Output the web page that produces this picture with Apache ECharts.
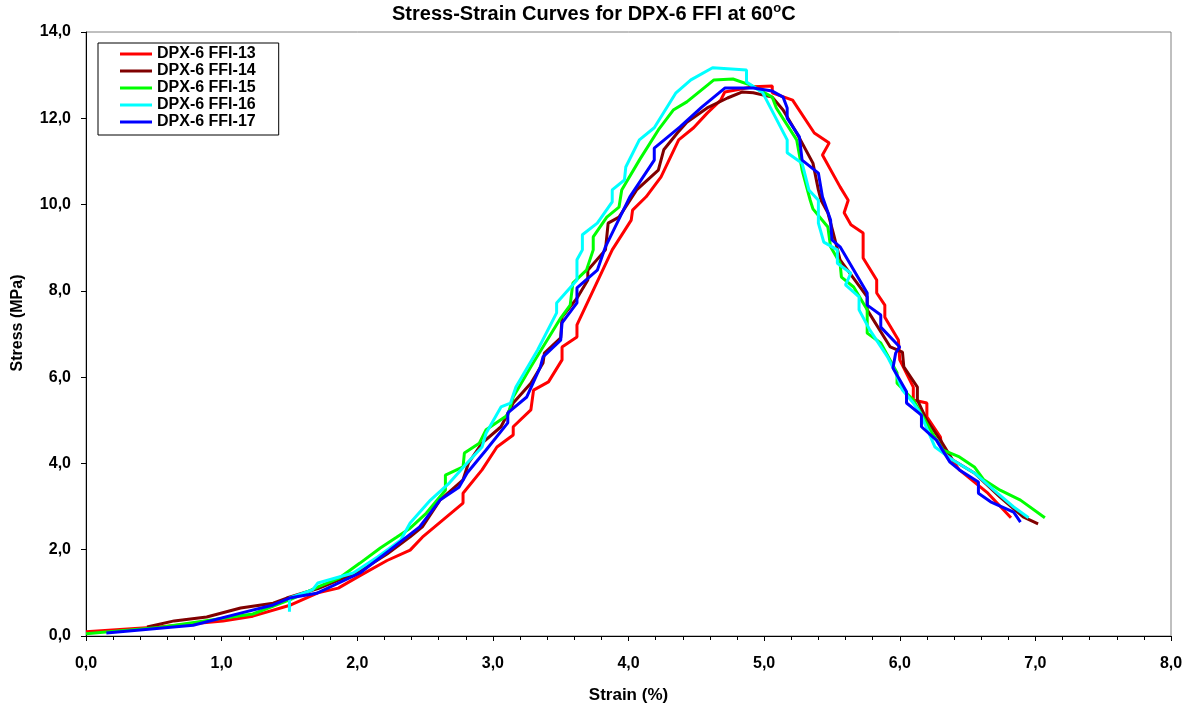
<!DOCTYPE html>
<html>
<head>
<meta charset="utf-8">
<script src="https://cdn.jsdelivr.net/npm/echarts@6/dist/echarts.min.js"></script>
<style>
html,body{margin:0;padding:0;background:#fff;}
#chart{width:1196px;height:709px;}
</style>
</head>
<body>
<div id="chart"></div>
<script>
// Strain (%) , Stress (MPa) pairs
const seriesNames = ['DPX-6 FFI-13','DPX-6 FFI-14','DPX-6 FFI-15','DPX-6 FFI-16','DPX-6 FFI-17'];
const seriesColors = ['#FF0000','#800000','#00FF00','#00FFFF','#0000FF'];

const ffi13 = [[0,0.1],[0.5,0.2],[1.01,0.35],[1.23,0.46],[1.51,0.72],[1.71,1.0],[1.86,1.11],[2.02,1.4],[2.22,1.75],[2.39,1.99],[2.48,2.29],[2.78,3.08],[2.78,3.31],[2.92,3.85],[3.03,4.38],[3.15,4.66],[3.15,4.85],[3.28,5.24],[3.30,5.70],[3.41,5.89],[3.51,6.40],[3.51,6.70],[3.62,6.93],[3.62,7.21],[3.88,8.95],[4.02,9.64],[4.03,9.87],[4.13,10.18],[4.24,10.64],[4.37,11.5],[4.48,11.78],[4.58,12.12],[4.68,12.42],[4.71,12.61],[4.92,12.73],[5.06,12.75],[5.06,12.59],[5.21,12.42],[5.37,11.66],[5.48,11.43],[5.43,11.15],[5.56,10.41],[5.62,10.1],[5.59,9.81],[5.64,9.53],[5.73,9.34],[5.73,8.76],[5.83,8.25],[5.83,7.95],[5.89,7.67],[5.89,7.39],[5.99,6.86],[6.0,6.40],[6.10,5.77],[6.10,5.47],[6.20,5.40],[6.20,5.08],[6.30,4.61],[6.31,4.38],[6.44,3.85],[6.65,3.31],[6.82,2.74]];

const ffi14 = [[0.45,0.21],[0.65,0.35],[0.89,0.44],[1.14,0.65],[1.38,0.76],[1.48,0.88],[1.71,1.1],[2.02,1.5],[2.22,1.9],[2.39,2.3],[2.48,2.53],[2.61,3.15],[2.78,3.62],[2.82,4.01],[2.92,4.47],[3.06,4.85],[3.15,5.40],[3.28,5.86],[3.37,6.33],[3.38,6.56],[3.50,6.91],[3.51,7.39],[3.62,7.83],[3.70,8.25],[3.70,8.48],[3.83,8.95],[3.85,9.57],[3.93,9.71],[4.06,10.34],[4.22,10.80],[4.26,11.27],[4.36,11.66],[4.43,11.91],[4.58,12.24],[4.73,12.47],[4.84,12.61],[4.92,12.59],[5.06,12.49],[5.14,12.19],[5.24,11.66],[5.36,10.96],[5.40,10.34],[5.42,10.1],[5.47,9.81],[5.51,9.34],[5.56,8.72],[5.76,7.86],[5.76,7.56],[5.93,6.70],[6.02,6.58],[6.03,6.24],[6.13,5.77],[6.13,5.47],[6.20,5.0],[6.30,4.54],[6.39,4.08],[6.55,3.78],[6.74,3.22],[6.91,2.76],[7.02,2.6]];

const ffi15 = [[0,0.05],[0.54,0.2],[1.23,0.51],[1.51,0.85],[1.72,1.15],[1.87,1.35],[2.02,1.69],[2.17,2.04],[2.29,2.29],[2.39,2.50],[2.51,2.85],[2.65,3.38],[2.65,3.73],[2.78,3.92],[2.79,4.24],[2.90,4.47],[2.95,4.78],[3.11,5.12],[3.15,5.54],[3.28,6.24],[3.50,7.37],[3.57,7.67],[3.59,8.18],[3.69,8.48],[3.74,8.95],[3.74,9.25],[3.84,9.71],[3.93,9.94],[3.95,10.34],[4.08,11.03],[4.22,11.73],[4.33,12.19],[4.43,12.38],[4.63,12.89],[4.77,12.91],[4.90,12.77],[5.06,12.49],[5.09,12.24],[5.24,11.5],[5.28,10.80],[5.34,10.1],[5.36,9.9],[5.47,9.48],[5.49,9.02],[5.56,8.64],[5.57,8.32],[5.66,8.09],[5.76,7.56],[5.76,7.02],[5.86,6.79],[5.98,6.10],[5.98,5.86],[6.10,5.47],[6.24,4.70],[6.32,4.31],[6.44,4.15],[6.55,3.92],[6.62,3.62],[6.74,3.38],[6.89,3.15],[7.07,2.74]];

const ffi16 = [[1.50,0.56],[1.50,0.88],[1.67,1.07],[1.71,1.23],[1.97,1.46],[2.15,1.83],[2.32,2.22],[2.39,2.62],[2.54,3.15],[2.68,3.55],[2.81,4.01],[2.92,4.38],[2.95,4.70],[3.06,5.31],[3.13,5.40],[3.17,5.77],[3.33,6.63],[3.47,7.49],[3.47,7.72],[3.62,8.25],[3.62,8.72],[3.66,8.95],[3.66,9.30],[3.77,9.57],[3.88,10.06],[3.88,10.34],[3.97,10.57],[3.98,10.87],[4.08,11.50],[4.19,11.78],[4.35,12.59],[4.46,12.89],[4.62,13.17],[4.87,13.12],[4.87,12.84],[4.99,12.59],[5.17,11.50],[5.17,11.20],[5.28,10.96],[5.33,10.34],[5.40,10.1],[5.40,9.57],[5.44,9.13],[5.54,8.95],[5.54,8.64],[5.64,8.41],[5.60,8.14],[5.70,7.86],[5.70,7.56],[5.78,7.09],[5.91,6.47],[5.97,6.10],[6.02,5.70],[6.10,5.40],[6.15,5.17],[6.26,4.38],[6.39,4.08],[6.55,3.78],[6.72,3.31],[6.84,2.99],[6.95,2.74]];

const ffi17 = [[0.15,0.07],[0.79,0.25],[1.14,0.53],[1.38,0.72],[1.50,0.88],[1.70,0.99],[2.02,1.46],[2.24,1.99],[2.46,2.53],[2.61,3.15],[2.75,3.45],[2.81,3.78],[2.95,4.31],[3.11,4.94],[3.11,5.17],[3.25,5.54],[3.35,6.24],[3.37,6.47],[3.50,6.86],[3.51,7.26],[3.62,7.72],[3.62,8.07],[3.77,8.48],[3.83,9.02],[4.01,10.18],[4.19,11.03],[4.19,11.31],[4.38,11.80],[4.54,12.26],[4.71,12.70],[4.92,12.70],[5.06,12.63],[5.14,12.49],[5.17,12.24],[5.17,12.0],[5.26,11.57],[5.28,11.03],[5.40,10.73],[5.43,10.18],[5.49,9.64],[5.50,9.18],[5.56,9.02],[5.76,7.95],[5.76,7.67],[5.86,7.44],[5.86,7.16],[6.0,6.70],[5.97,6.56],[5.95,6.21],[6.05,5.66],[6.05,5.40],[6.16,5.12],[6.16,4.85],[6.27,4.54],[6.37,4.03],[6.44,3.85],[6.58,3.57],[6.58,3.31],[6.67,3.11],[6.84,2.87],[6.89,2.64]];

const seriesData = [ffi13, ffi14, ffi15, ffi16, ffi17];

const xAxisMin = 0, xAxisMax = 8, xAxisStep = 1;
const yAxisMin = 0, yAxisMax = 14, yAxisStep = 2;

const FONT = '"Liberation Sans", Arial, sans-serif';
const fmt = v => v.toFixed(1).replace('.', ',');

const chart = echarts.init(document.getElementById('chart'), null, {renderer: 'canvas'});
chart.setOption({
  animation: false,
  backgroundColor: '#ffffff',
  title: {
    text: 'Stress-Strain Curves for DPX-6 FFI at 60{sup|o}C',
    left: 392,
    top: 2,
    padding: 0,
    textStyle: {
      fontFamily: FONT, fontSize: 20, fontWeight: 'bold', color: '#000', lineHeight: 24,
      rich: { sup: { fontFamily: FONT, fontSize: 13, fontWeight: 'bold', color: '#000', lineHeight: 12, verticalAlign: 'top' } }
    }
  },
  legend: {
    orient: 'vertical',
    left: 98,
    top: 43,
    padding: [3, 23, 5, 22],
    itemGap: 1,
    itemWidth: 32,
    itemHeight: 3,
    icon: 'rect',
    borderColor: '#000',
    borderWidth: 1,
    backgroundColor: '#fff',
    textStyle: { fontFamily: FONT, fontSize: 16, fontWeight: 'bold', color: '#000', lineHeight: 16 },
    data: seriesNames
  },
  grid: {
    left: 86, right: 25, top: 32, bottom: 73,
    show: true, borderColor: '#808080', borderWidth: 1, backgroundColor: '#fff'
  },
  xAxis: {
    type: 'value',
    min: xAxisMin, max: xAxisMax, interval: xAxisStep,
    name: 'Strain (%)',
    nameLocation: 'middle',
    nameGap: 51,
    nameTextStyle: { fontFamily: FONT, fontSize: 17, fontWeight: 'bold', color: '#000' },
    axisLine: { show: true, lineStyle: { color: '#000', width: 1 } },
    axisTick: { show: true, length: 5, lineStyle: { color: '#000' } },
    minorTick: { show: true, splitNumber: 5, length: 4, lineStyle: { color: '#000' } },
    splitLine: { show: false },
    axisLabel: { fontFamily: FONT, fontSize: 16, fontWeight: 'bold', color: '#000', margin: 20, formatter: fmt }
  },
  yAxis: {
    type: 'value',
    min: yAxisMin, max: yAxisMax, interval: yAxisStep,
    name: 'Stress (MPa)',
    nameLocation: 'middle',
    nameGap: 60,
    nameTextStyle: { fontFamily: FONT, fontSize: 16, fontWeight: 'bold', color: '#000', padding: [0, 0, 0, 22] },
    axisLine: { show: true, lineStyle: { color: '#000', width: 1 } },
    axisTick: { show: true, length: 5, lineStyle: { color: '#000' } },
    splitLine: { show: false },
    axisLabel: { fontFamily: FONT, fontSize: 16, fontWeight: 'bold', color: '#000', margin: 15, formatter: fmt }
  },
  series: seriesNames.map((name, i) => ({
    name: name,
    type: 'line',
    data: seriesData[i],
    showSymbol: false,
    symbol: 'none',
    color: seriesColors[i],
    lineStyle: { color: seriesColors[i], width: 3 },
    z: 2 + i
  }))
});
</script>
</body>
</html>
